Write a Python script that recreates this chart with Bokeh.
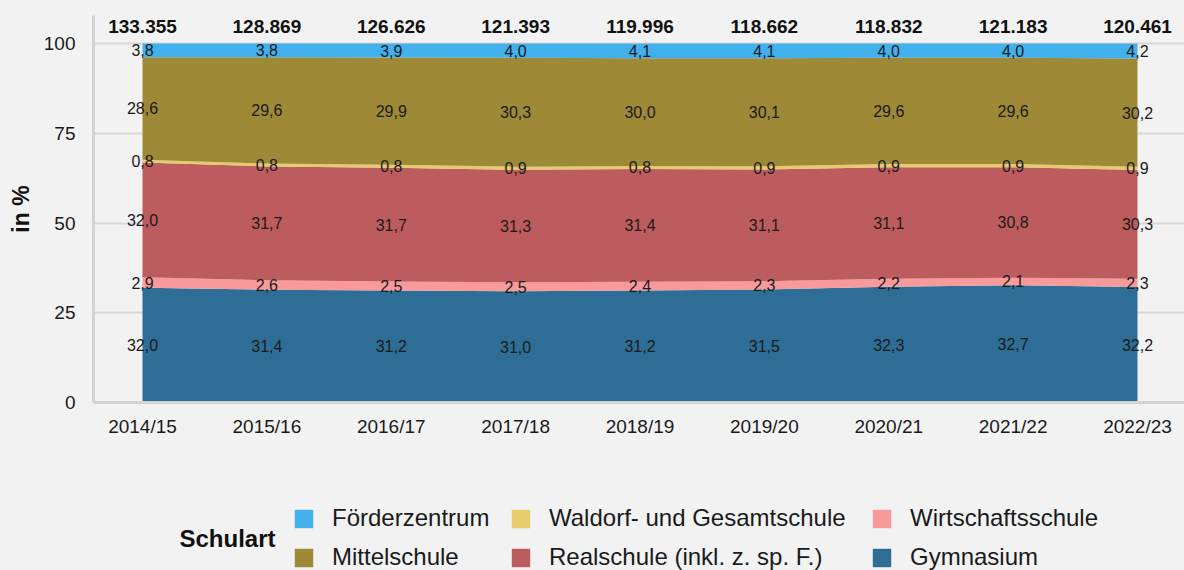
import numpy as np
from bokeh.plotting import figure
from bokeh.models import Range1d, FixedTicker, Legend, LegendItem, Label, ColumnDataSource
from bokeh.layouts import column
from bokeh.embed import file_html
from bokeh.resources import INLINE
from bokeh.core.properties import value

years = ["2014/15", "2015/16", "2016/17", "2017/18", "2018/19", "2019/20", "2020/21", "2021/22", "2022/23"]
totals = ["133.355", "128.869", "126.626", "121.393", "119.996", "118.662", "118.832", "121.183", "120.461"]

# stacked bottom -> top
gymnasium = [32.0, 31.4, 31.2, 31.0, 31.2, 31.5, 32.3, 32.7, 32.2]
wirtschaftsschule = [2.9, 2.6, 2.5, 2.5, 2.4, 2.3, 2.2, 2.1, 2.3]
realschule = [32.0, 31.7, 31.7, 31.3, 31.4, 31.1, 31.1, 30.8, 30.3]
waldorf = [0.8, 0.8, 0.8, 0.9, 0.8, 0.9, 0.9, 0.9, 0.9]
mittelschule = [28.6, 29.6, 29.9, 30.3, 30.0, 30.1, 29.6, 29.6, 30.2]
foerderzentrum = [3.8, 3.8, 3.9, 4.0, 4.1, 4.1, 4.0, 4.0, 4.2]

names = ["Gymnasium", "Wirtschaftsschule", "Realschule (inkl. z. sp. F.)",
         "Waldorf- und Gesamtschule", "Mittelschule", "Förderzentrum"]
series = [gymnasium, wirtschaftsschule, realschule, waldorf, mittelschule, foerderzentrum]
colors = ["#2e6e96", "#f89a9b", "#bd5c5f", "#e6cb6c", "#9e8937", "#41b0eb"]

# legend columns (top row, bottom row)
legend_cols = [["Förderzentrum", "Mittelschule"],
               ["Waldorf- und Gesamtschule", "Realschule (inkl. z. sp. F.)"],
               ["Wirtschaftsschule", "Gymnasium"]]
legend_title = "Schulart"

FONT = "Liberation Sans"
BG = "#f2f2f2"
W = 1184

xs = np.arange(len(years))
vals = np.array(series, dtype=float)
pct = vals / vals.sum(axis=0) * 100.0
tops = np.cumsum(pct, axis=0)
bottoms = tops - pct

p = figure(width=W, height=452, output_backend="svg", toolbar_location=None,
           x_range=Range1d(-0.394, 8.378), y_range=Range1d(0, 107.8),
           min_border_left=93, min_border_right=0, min_border_top=15, min_border_bottom=50,
           background_fill_color=BG, border_fill_color=BG, outline_line_color=None)

for name, b, t, c in zip(names, bottoms, tops, colors):
    p.varea(x=xs, y1=b, y2=t, fill_color=c, fill_alpha=1.0)

# value labels
lx, ly, lt = [], [], []
for v, b, t in zip(vals, bottoms, tops):
    for i in range(len(years)):
        lx.append(xs[i])
        ly.append((b[i] + t[i]) / 2.0)
        lt.append(f"{v[i]:.1f}".replace(".", ","))
src = ColumnDataSource(dict(x=lx, y=ly, t=lt))
p.text(x="x", y="y", text="t", source=src, text_align="center", text_baseline="middle",
       text_font=value(FONT), text_font_size="16px", text_color="#1a1a1a")

# totals on top
p.text(x=xs, y=[104.8] * len(xs), text=totals, text_align="center", text_baseline="middle",
       text_font=value(FONT), text_font_size="19px", text_font_style="bold", text_color="#111111")

# axes
p.xaxis.ticker = FixedTicker(ticks=list(range(len(years))))
p.xaxis.major_label_overrides = {i: y for i, y in enumerate(years)}
p.yaxis.ticker = FixedTicker(ticks=[0, 25, 50, 75, 100])
for ax in (p.xaxis[0], p.yaxis[0]):
    ax.axis_line_color = "#d3d3d3"
    ax.axis_line_width = 3
    ax.major_tick_line_color = None
    ax.minor_tick_line_color = None
    ax.major_label_text_font = FONT
    ax.major_label_text_font_size = "19px"
    ax.major_label_text_color = "#1a1a1a"
p.xaxis.major_label_standoff = 7
p.yaxis.major_label_standoff = 12
p.yaxis.axis_label = "in %"
p.yaxis.axis_label_text_font = FONT
p.yaxis.axis_label_text_font_size = "23px"
p.yaxis.axis_label_text_font_style = "bold"
p.yaxis.axis_label_text_color = "#111111"
p.yaxis.axis_label_standoff = 7

p.xgrid.visible = False
p.ygrid.ticker = FixedTicker(ticks=[0, 25, 50, 75, 100])
p.ygrid.grid_line_color = "#d6d6d6"
p.ygrid.grid_line_width = 2

# legend figure (its glyphs are the same areas, drawn outside its visible range)
p2 = figure(width=W, height=118, output_backend="svg", toolbar_location=None,
            x_range=Range1d(-100, -99), y_range=Range1d(-100, -99),
            x_axis_type=None, y_axis_type=None,
            min_border_left=93, min_border_right=0, min_border_top=0, min_border_bottom=0,
            background_fill_color=None, border_fill_color=BG, outline_line_color=None)

handles = {}
for name, b, t, c in zip(names, bottoms, tops, colors):
    handles[name] = p2.varea(x=xs, y1=b, y2=t, fill_color=c, fill_alpha=1.0)

col_x = [199, 416, 777]
for cx, col in zip(col_x, legend_cols):
    items = [LegendItem(label=n, renderers=[handles[n]]) for n in col]
    lg = Legend(items=items, location=(cx, -1), orientation="vertical",
                glyph_width=23, glyph_height=23, label_standoff=17, spacing=11,
                label_height=24, label_text_font=FONT, label_text_font_size="24px",
                label_text_color="#1a1a1a", padding=0, margin=0,
                background_fill_alpha=0, border_line_color=None)
    p2.add_layout(lg)

p2.add_layout(Label(x=182, y=32, x_units="screen", y_units="screen", text=legend_title,
                    text_align="right", text_baseline="middle", text_font=FONT,
                    text_font_size="24px", text_font_style="bold", text_color="#111111"))

layout = column(p, p2, spacing=0, styles={"background-color": BG})
open("out.html", "w").write(file_html(layout, INLINE))
